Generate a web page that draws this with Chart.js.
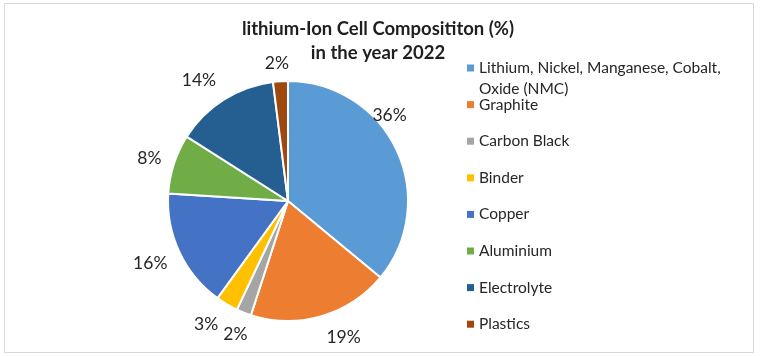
<!DOCTYPE html>
<html><head><meta charset="utf-8">
<script src="https://cdn.jsdelivr.net/npm/chart.js@4/dist/chart.umd.min.js"></script>
<style>html,body{margin:0;padding:0;background:#fff;}#wrap{position:relative;width:761px;height:356px;}</style>
</head><body>
<div id="wrap"><canvas id="c" width="761" height="356"></canvas></div>
<script>
// ---- data ----
const categories = ['Lithium, Nickel, Manganese, Cobalt, Oxide (NMC)', 'Graphite', 'Carbon Black', 'Binder', 'Copper', 'Aluminium', 'Electrolyte', 'Plastics'];
const shares = [36, 19, 2, 3, 16, 8, 14, 2];
const sliceColors = ['#5B9BD5', '#ED7D31', '#A5A5A5', '#FFC000', '#4472C4', '#70AD47', '#255E91', '#9E480E'];
const titleLines = ['lithium-Ion Cell Composititon (%)', 'in the year 2022'];

const FONT = 'Lato, "Open Sans", sans-serif';

const framePlugin = {
  id: 'frame',
  beforeDraw(chart) {
    const ctx = chart.ctx;
    ctx.save();
    ctx.fillStyle = '#ffffff';
    ctx.fillRect(0, 0, chart.width, chart.height);
    ctx.strokeStyle = '#d9d9d9';
    ctx.lineWidth = 1;
    ctx.strokeRect(4.5, 3.5, 749, 349);
    ctx.restore();
  }
};

const titlePlugin = {
  id: 'twoLineTitle',
  afterDraw(chart, args, opts) {
    const ctx = chart.ctx;
    ctx.save();
    ctx.font = 'bold ' + opts.size + 'px ' + FONT;
    ctx.fillStyle = opts.color;
    ctx.textAlign = 'center';
    ctx.textBaseline = 'middle';
    opts.lines.forEach((t, i) => ctx.fillText(t, opts.x, opts.y + i * opts.lineHeight));
    ctx.restore();
  }
};

const labelPlugin = {
  id: 'sliceLabels',
  afterDatasetsDraw(chart, args, opts) {
    const ctx = chart.ctx;
    const meta = chart.getDatasetMeta(0);
    const data = chart.data.datasets[0].data;
    ctx.save();
    ctx.font = opts.size + 'px ' + FONT;
    ctx.fillStyle = opts.color;
    ctx.textAlign = 'center';
    ctx.textBaseline = 'middle';
    meta.data.forEach((arc, i) => {
      const p = arc.getProps(['x', 'y', 'startAngle', 'endAngle', 'outerRadius'], true);
      const a = (p.startAngle + p.endAngle) / 2 + (opts.angleShift[i] || 0) * Math.PI / 180;
      const r = p.outerRadius + opts.gap[i];
      ctx.fillText(data[i] + '%', p.x + Math.cos(a) * r, p.y + Math.sin(a) * r);
    });
    ctx.restore();
  }
};

const legendPlugin = {
  id: 'sideLegend',
  afterDraw(chart, args, opts) {
    const ctx = chart.ctx;
    const labels = chart.data.labels;
    const colors = chart.data.datasets[0].backgroundColor;
    ctx.save();
    ctx.font = opts.size + 'px ' + FONT;
    ctx.textAlign = 'left';
    ctx.textBaseline = 'middle';
    labels.forEach((label, i) => {
      const y = opts.y + i * opts.step;
      ctx.fillStyle = colors[i];
      ctx.fillRect(opts.x, y - opts.box / 2, opts.box, opts.box);
      ctx.fillStyle = opts.color;
      const words = label.split(' ');
      const lines = [];
      let cur = '';
      words.forEach(w => {
        const test = cur ? cur + ' ' + w : w;
        if (ctx.measureText(test).width > opts.maxWidth && cur) { lines.push(cur); cur = w; }
        else cur = test;
      });
      lines.push(cur);
      lines.forEach((ln, k) => ctx.fillText(ln, opts.x + opts.box + opts.textGap, y + k * opts.lineHeight));
    });
    ctx.restore();
  }
};

new Chart(document.getElementById('c'), {
  type: 'pie',
  data: {
    labels: categories,
    datasets: [{
      data: shares,
      backgroundColor: sliceColors,
      borderColor: '#ffffff',
      borderWidth: 2
    }]
  },
  options: {
    responsive: false,
    animation: false,
    devicePixelRatio: 1,
    layout: { padding: { left: 167, top: 80, right: 352, bottom: 34 } },
    plugins: {
      legend: { display: false },
      title: { display: false },
      tooltip: { enabled: false },
      twoLineTitle: { lines: titleLines, x: 378, y: 29, lineHeight: 24, size: 18.5, color: '#1f1f1f' },
      sliceLabels: {
        size: 17.5, color: '#262626',
        gap: [13, 27, 23, 28, 31, 25, 30, 18],
        angleShift: [-15, -6, 0, 3, 1, -1, -4, -1]
      },
      sideLegend: { x: 467, y: 68, step: 36.6, box: 7, textGap: 5, size: 15.5, lineHeight: 21, maxWidth: 258, color: '#262626' }
    }
  },
  plugins: [framePlugin, titlePlugin, labelPlugin, legendPlugin]
});
</script>
</body></html>
